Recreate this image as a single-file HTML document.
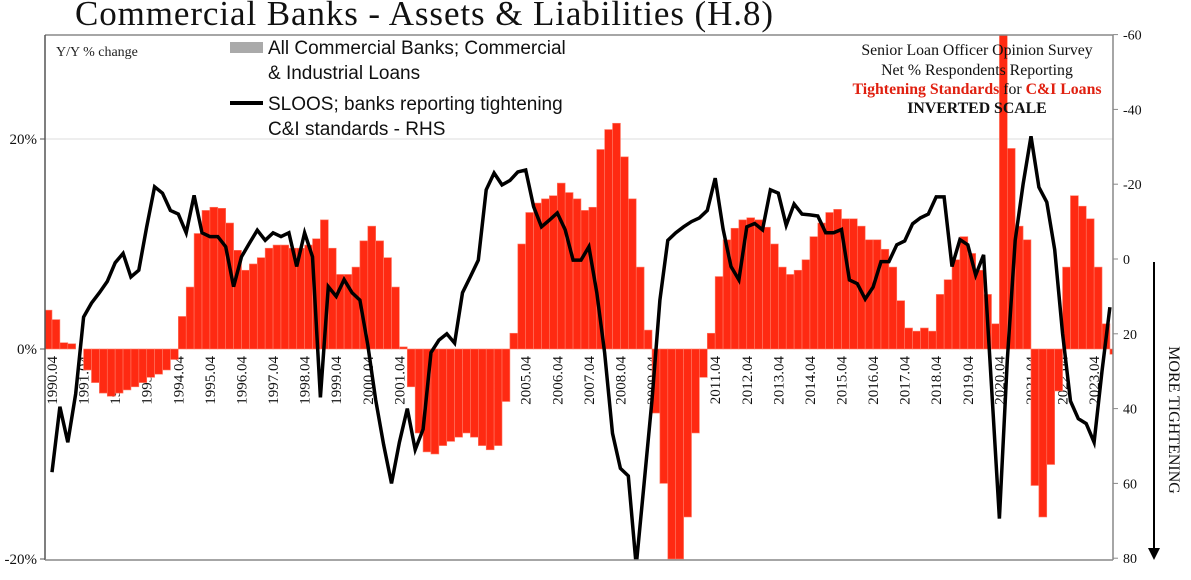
<!DOCTYPE html>
<html><head><meta charset="utf-8">
<style>
html,body{margin:0;padding:0;background:#fff;}
svg{display:block;}
</style></head>
<body>
<svg id="chart" width="1191" height="580" viewBox="0 0 1191 580" xmlns="http://www.w3.org/2000/svg">
  <defs><clipPath id="plotclip"><rect x="45" y="35" width="1068" height="525"/></clipPath></defs>
  <text x="75" y="25" font-family="Liberation Serif, serif" font-size="35" textLength="698" fill="#111">Commercial Banks - Assets &amp; Liabilities (H.8)</text>
  <g id="xlabels"></g>
  <line x1="45" y1="139" x2="1113" y2="139" stroke="#ddd" stroke-width="1"/>
  <g id="bars" clip-path="url(#plotclip)"></g>
  <path id="sloos" clip-path="url(#plotclip)" fill="none" stroke="#000" stroke-width="3.5" stroke-linejoin="miter"/>
  <line x1="45" y1="35" x2="1113" y2="35" stroke="#888" stroke-width="1.5"/>
  <line x1="45" y1="35" x2="45" y2="560" stroke="#555" stroke-width="1.5"/>
  <line x1="45" y1="560" x2="1113" y2="560" stroke="#888" stroke-width="1.5"/>
  <line x1="1113" y1="35" x2="1113" y2="560" stroke="#888" stroke-width="1.5"/>
  <g id="lticks"></g>
  <g id="rticks"></g>
  <text x="56" y="56" font-family="Liberation Serif, serif" font-size="14" fill="#222">Y/Y % change</text>
  <g>
    <rect x="230" y="42" width="33" height="11" fill="#aaa"/>
    <text x="268" y="54" font-family="Liberation Sans, sans-serif" font-size="19" fill="#111">All Commercial Banks; Commercial</text>
    <text x="268" y="79" font-family="Liberation Sans, sans-serif" font-size="19" fill="#111">&amp; Industrial Loans</text>
    <line x1="230" y1="103" x2="263" y2="103" stroke="#000" stroke-width="4"/>
    <text x="268" y="110" font-family="Liberation Sans, sans-serif" font-size="19" fill="#111">SLOOS; banks reporting tightening</text>
    <text x="268" y="135" font-family="Liberation Sans, sans-serif" font-size="19" fill="#111">C&amp;I standards - RHS</text>
  </g>
  <g font-family="Liberation Serif, serif" font-size="15.8" text-anchor="middle">
    <text x="977" y="55" fill="#111">Senior Loan Officer Opinion Survey</text>
    <text x="977" y="75" fill="#111">Net % Respondents Reporting</text>
    <text x="977" y="94" fill="#e02010" font-weight="bold">Tightening Standards <tspan fill="#111" font-weight="normal">for</tspan> C&amp;I Loans</text>
    <text x="977" y="113" fill="#111" font-weight="bold">INVERTED SCALE</text>
  </g>
  <line x1="1154" y1="262" x2="1154" y2="552" stroke="#000" stroke-width="2"/>
  <polygon points="1148,548 1160,548 1154,560" fill="#000"/>
  <text transform="translate(1169,420) rotate(90)" font-family="Liberation Serif, serif" font-size="16" text-anchor="middle" fill="#111">MORE TIGHTENING</text>
</svg>
<script>
const barStart = 1990.0;
const barValues = [
3.7,2.8,0.6,0.5, 0,-2,-3.2,-4.2, -4.5,-4.2,-3.9,-3.6, -3.2,-2.7,-2.4,-2,
-1,3.1,5.9,11, 13.2,13.5,13.4,12, 9.4,7.5,8.1,8.7, 9.6,9.9,9.9,9.6,
9.6,9.9,10.5,12.3, 9.6,7.1,7.1,7.8, 10.3,11.7,10.3,8.7, 5.9,0.2,-3.6,-8,
-9.8,-10,-9.2,-8.8, -8.4,-8,-8.4,-9.2, -9.6,-9.2,-5,1.5, 10,13,13.9,14.3,
14.6,15.8,14.9,14.3, 13.2,13.5,19,20.9, 21.5,18.3,14.3,7.8, 1.8,-6.1,-12.8,-20,
-20,-16,-8,-2.7, 1.5,6.9,10.4,11.5, 12.3,12.5,12.3,11.6, 10,7.8,7.1,7.5,
8.5,10.7,12,13, 13.3,12.4,12.4,11.7, 10.4,10.4,9.5,7.8, 4.6,2,1.7,2,
1.7,5.2,6.6,8.5, 10.7,9.1,7.5,5.2, 2.4,30,19.1,11.7, 10.4,-13,-16,-11,
-4,7.8,14.6,13.6, 12.4,7.8,2.4,-0.5];
const lineStart = 1990.25;
const lineValues = [
57,39.5,49, 36,15.5,11.8,9, 6,1,-1.5,4.8, 3,-8.6,-19.3,-17.6,
-13,-12,-7,-17, -7,-6,-6,-3.3, 7.4,-0.6,-4.2,-7.7, -5,-7,-6,-7,
2,-7,-0.6,37, 7.4,10,5.5,9, 11,23,37.7,49.6, 60,49,40,51,
45.5,25,21.7,20, 22.5,9,4.7,0.3, -18.5,-23,-19.8,-21, -23.3,-23.8,-14,-8.6,
-10.4,-12.3,-7.8,0.3, 0.3,-3.3,9,25, 46.6,56,58,82, 60,37.7,11,-5,
-7,-8.6,-10,-11, -13,-21.6,-8,2, 5.6,-8.6,-9.5,-7.8, -18.5,-17.6,-9,-14.7,
-12,-11.8,-11.5,-7, -7,-7.9,5.6,6.6, 10.7,7.5,0.7,0.7, -3.8,-4.8,-9.4,-11,
-12,-16.6,-16.6,2, -5.2,-3.8,4.3,-1.1, 34,69.4,27,-5, -20,-32.8,-19.2,-15.2,
-2.5,20,38,42.7, 44,49,30,12.9];
const yearLabels = [1990,1991,1992,1993,1994,1995,1996,1997,1998,1999,2000,2001,2002,2003,2004,2005,2006,2007,2008,2009,2010,2011,2012,2013,2014,2015,2016,2017,2018,2019,2020,2021,2022,2023];
const leftTicks = [20,0,-20];
const rightTicks = [-60,-40,-20,0,20,40,60,80];

const NS = 'http://www.w3.org/2000/svg';
function xScale(t){ return 52 + (t - 1990.25) * 31.58; }
function yLeft(v){ return 349 - v * 10.5; }
function yRight(v){ return 259 + v * 3.74; }

const xl = document.getElementById('xlabels');
yearLabels.forEach(function(y){
  const x = xScale(y + 0.25);
  const t = document.createElementNS(NS,'text');
  t.setAttribute('transform','translate(' + (x + 5) + ',356) rotate(-90)');
  t.setAttribute('text-anchor','end');
  t.setAttribute('font-family','Liberation Serif, serif');
  t.setAttribute('font-size','15');
  t.setAttribute('fill','#111');
  t.textContent = y + '.04';
  
  
  xl.appendChild(t);
});

const bg = document.getElementById('bars');
barValues.forEach(function(v,i){
  const t0 = barStart + i * 0.25;
  const x0 = xScale(t0), x1 = xScale(t0 + 0.25);
  const y0 = yLeft(0), y1 = yLeft(v);
  const r = document.createElementNS(NS,'rect');
  r.setAttribute('x', x0);
  r.setAttribute('width', Math.max(0, x1 - x0));
  r.setAttribute('y', Math.min(y0,y1));
  r.setAttribute('height', Math.abs(y1 - y0));
  r.setAttribute('fill','#ff2a12');
  r.setAttribute('stroke','#ff7a66');
  r.setAttribute('stroke-width','0.6');
  
  
  bg.appendChild(r);
});

let d = '';
lineValues.forEach(function(v,i){
  const t = lineStart + i * 0.25;
  d += (i ? 'L' : 'M') + xScale(t).toFixed(1) + ',' + yRight(v).toFixed(1);
});
document.getElementById('sloos').setAttribute('d', d);

const lt = document.getElementById('lticks');
leftTicks.forEach(function(v){
  const y = yLeft(v);
  const l = document.createElementNS(NS,'line');
  l.setAttribute('x1',40); l.setAttribute('x2',45); l.setAttribute('y1',y); l.setAttribute('y2',y);
  l.setAttribute('stroke','#555');
  
  
  lt.appendChild(l);
  const t = document.createElementNS(NS,'text');
  t.setAttribute('x',37); t.setAttribute('y',y + 5);
  t.setAttribute('text-anchor','end');
  t.setAttribute('font-family','Liberation Serif, serif');
  t.setAttribute('font-size','15');
  t.setAttribute('fill','#111');
  t.textContent = v + '%';
  
  
  lt.appendChild(t);
});

const rt = document.getElementById('rticks');
rightTicks.forEach(function(v){
  const y = yRight(v);
  const l = document.createElementNS(NS,'line');
  l.setAttribute('x1',1113); l.setAttribute('x2',1118); l.setAttribute('y1',y); l.setAttribute('y2',y);
  l.setAttribute('stroke','#888');
  
  
  rt.appendChild(l);
  const t = document.createElementNS(NS,'text');
  t.setAttribute('x',1123); t.setAttribute('y',y + 5);
  t.setAttribute('font-family','Liberation Serif, serif');
  t.setAttribute('font-size','14');
  t.setAttribute('fill','#111');
  t.textContent = v;
  
  
  rt.appendChild(t);
});
</script>
</body></html>
